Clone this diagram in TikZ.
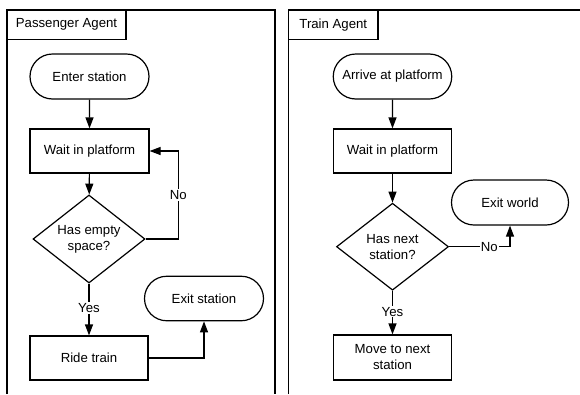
\documentclass[tikz,border=0pt]{standalone}
\usepackage{fontspec}
\setmainfont{Liberation Sans}
\usetikzlibrary{shapes.geometric,shapes.misc,arrows.meta}
\begin{document}
\begin{tikzpicture}[x=1pt,y=-1pt,
  every node/.style={font=\fontsize{13.2}{16}\selectfont},
  frameline/.style={line width=1.2pt},
  terminal/.style={rounded rectangle, draw, line width=1.2pt,
    minimum width=119pt, minimum height=45pt, inner sep=0pt},
  procbox/.style={rectangle, draw, line width=1.2pt,
    minimum width=119pt, minimum height=44pt, inner sep=0pt, align=center},
  decision/.style={diamond, draw, line width=1.2pt, shape aspect=1.27,
    minimum width=112pt, minimum height=88pt, inner sep=0pt, align=center},
  header/.style={rectangle, draw, line width=1.2pt,
    minimum width=119pt, minimum height=29pt, inner sep=0pt},
  flow/.style={line width=1.2pt, -{Triangle[length=11pt,width=8pt]}},
  lbl/.style={fill=white, inner sep=1pt}]

\useasboundingbox (0,0) rectangle (580,394);

% swimlane frames (open at the bottom)
\draw[frameline] (7,394) -- (7,10) -- (275,10) -- (275,394);
\draw[frameline] (288.5,394) -- (288.5,10) -- (582,10);

% lane headers
\node[header] (hdrP) at (66.5,24.7) {Passenger Agent};
\node[header, minimum width=89.5pt] (hdrT) at (333.3,24.7) {Train Agent};

% passenger flow
\node[terminal] (enter) at (89.5,76.5) {Enter station};
\node[procbox] (waitP) at (89.5,151) {Wait in platform};
\node[decision] (space) at (89,239) {Has empty\\space?};
\node[procbox, minimum width=118pt] (ride) at (89,358) {Ride train};
\node[terminal, minimum height=44.5pt] (exitS) at (204,298.5) {Exit station};
\coordinate (noBend) at (178.3,239);

\draw[flow] (enter) -- (waitP);
\draw[flow] (waitP) -- (space);
\draw[flow] (space.east) -- (noBend) |- node[lbl, pos=0.25] {No} (waitP.east);
\draw[flow] (space.south) -- node[lbl, pos=0.47] {Yes} (ride.north);
\draw[flow] (ride.east) -| (exitS.south);

% train flow
\node[terminal, minimum width=118.5pt] (arrive) at (392.5,76.5) {Arrive at platform};
\node[procbox, minimum width=118.5pt] (waitT) at (392.5,151) {Wait in platform};
\node[decision, minimum height=87pt] (next) at (392.5,246.7) {Has next\\station?};
\node[procbox, minimum width=118.5pt, minimum height=45pt] (move) at (392.5,357.5) {Move to next\\station};
\node[terminal, minimum width=117pt] (exitW) at (510,202.5) {Exit world};

\draw[flow] (arrive) -- (waitT);
\draw[flow] (waitT) -- (next);
\draw[flow] (next.east) -| node[lbl, pos=0.33] {No} (exitW.south);
\draw[flow] (next.south) -- node[lbl, pos=0.48] {Yes} (move.north);

\end{tikzpicture}
\end{document}
